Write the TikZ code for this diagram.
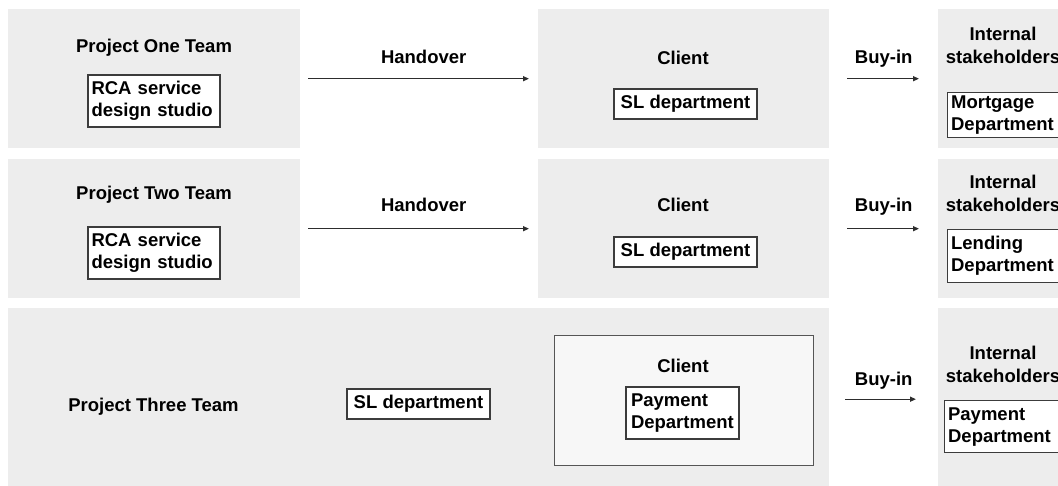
\documentclass[tikz,border=0pt]{standalone}
\usepackage{fontspec}
\setmainfont{Liberation Sans}
\usepackage{tikz}
\usetikzlibrary{arrows.meta,positioning}
\definecolor{laneg}{RGB}{237,237,237}
\definecolor{clientg}{RGB}{247,247,247}
\definecolor{edgeg}{RGB}{60,60,60}
\definecolor{cedge}{RGB}{85,85,85}
\definecolor{arrowg}{RGB}{45,45,45}
\tikzset{
  lane/.style={rectangle,fill=laneg,draw=none,anchor=north west,inner sep=0pt},
  heading/.style={inner sep=0pt,font=\fontsize{18.5}{23}\selectfont\bfseries,align=center,text=black},
  dept/.style={rectangle,draw=edgeg,fill=white,line width=1.2pt,
               font=\fontsize{18.5}{22}\selectfont\bfseries},
  deptwide/.style={dept,align=left,text width=#1,inner xsep=3.5pt,inner ysep=2pt},
  deptone/.style={dept,minimum width=143pt,minimum height=30pt,inner sep=0pt},
  clientbox/.style={rectangle,draw=cedge,fill=clientg,line width=1.2pt,
                    anchor=north west,inner sep=0pt},
  flow/.style={-{Triangle[length=6pt,width=5pt]},line width=1.4pt,arrowg},
  flowlbl/.style={heading,anchor=base,midway},
}

\begin{document}
\begin{tikzpicture}[x=1pt,y=-1pt]
  \useasboundingbox (0,0) rectangle (1058,486);
  \clip (0,0) rectangle (1058,486);

  \node[lane,minimum width=292pt,minimum height=139pt] (team1) at (8,9) {};
  \node[lane,minimum width=291pt,minimum height=139pt] (client1) at (538,9) {};
  \node[lane,minimum width=140pt,minimum height=139pt] (stake1) at (938,9) {};
  \node[lane,minimum width=292pt,minimum height=139pt] (team2) at (8,159) {};
  \node[lane,minimum width=291pt,minimum height=139pt] (client2) at (538,159) {};
  \node[lane,minimum width=140pt,minimum height=139pt] (stake2) at (938,159) {};
  \node[lane,minimum width=821pt,minimum height=182pt] (team3) at (8,308) {};
  \node[lane,minimum width=140pt,minimum height=182pt] (stake3) at (938,308) {};

  \node[heading,anchor=base] (team1lbl) at (154,52.5) {Project One Team};
  \node[deptwide=125pt,minimum height=52pt] (rca1) at (154,101) {RCA service\\design studio};
  \node[heading,anchor=base] (client1lbl) at (683,64.5) {Client};
  \node[deptone] (sl1) at (685.5,104) {SL department};
  \node[heading,anchor=north] (stake1lbl) at (1003,27) {Internal\\stakeholders};
  \node[deptwide=125pt,minimum height=45pt,anchor=north west] (mort) at (947,92) {Mortgage\\Department};

  \node[heading,anchor=base] (team2lbl) at (154,199.5) {Project Two Team};
  \node[deptwide=125pt,minimum height=52pt] (rca2) at (154,253) {RCA service\\design studio};
  \node[heading,anchor=base] (client2lbl) at (683,211.5) {Client};
  \node[deptone] (sl2) at (685.5,252) {SL department};
  \node[heading,anchor=north] (stake2lbl) at (1003,175) {Internal\\stakeholders};
  \node[deptwide=125pt,minimum height=53pt,anchor=north west] (lend) at (947,229) {Lending\\Department};

  \node[heading,anchor=base] (team3lbl) at (153.5,411.5) {Project Three Team};
  \node[deptone] (sl3) at (418.5,404) {SL department};
  \node[clientbox,minimum width=259pt,minimum height=130pt] (client3) at (554,335) {};
  \node[heading,anchor=base] (client3lbl) at (683,372.5) {Client};
  \node[deptwide=103pt,inner xsep=5pt,minimum height=52pt] (pay3) at (682.5,413) {Payment\\Department};
  \node[heading,anchor=north] (stake3lbl) at (1003,346) {Internal\\stakeholders};
  \node[deptwide=125pt,minimum height=52pt,anchor=north west] (pay4) at (944,400) {Payment\\Department};

  \draw[flow,shorten <=8pt,shorten >=9pt] (team1) -- node[flowlbl,yshift=15.5pt,xshift=4.5pt] {Handover} (client1);
  \draw[flow,shorten <=18pt,shorten >=19pt] (client1) -- node[flowlbl,yshift=15.5pt] {Buy-in} (stake1);
  \draw[flow,shorten <=8pt,shorten >=9pt] (team2) -- node[flowlbl,yshift=17pt,xshift=4.5pt] {Handover} (client2);
  \draw[flow,shorten <=18pt,shorten >=19pt] (client2) -- node[flowlbl,yshift=17pt] {Buy-in} (stake2);
  \draw[flow,shorten <=16pt,shorten >=22pt] (team3) -- node[flowlbl,yshift=13.5pt] {Buy-in} (stake3);
\end{tikzpicture}
\end{document}
